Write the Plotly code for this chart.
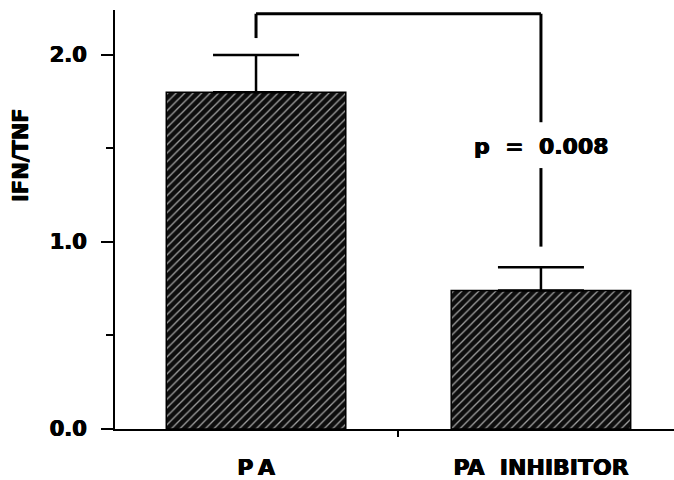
import plotly.graph_objects as go

# ---- data ----
categories = ["PA", "PA INHIBITOR"]
means = [1.80, 0.74]
errors = [0.20, 0.125]
tick_labels = ["P\u2009A", "PA\u00a0\u00a0INHIBITOR"]
y_tick_vals = [0.0, 1.0, 2.0]
y_tick_text = ["0.0", "1.0", "2.0"]
y_minor_vals = [0.5, 1.5]
p_label = "p\u00a0\u00a0=\u00a0\u00a00.008"
y_title = "IFN/TNF"

FONT = "DejaVu Sans"
HEAVY = "0.6px 0 0 black, -0.4px 0 0 black"
xpos = list(range(len(categories)))

fig = go.Figure()
fig.add_trace(go.Bar(
    x=xpos, y=means, width=0.63,
    marker=dict(color="#0d0d0d",
                line=dict(color="black", width=1.5),
                pattern=dict(shape="/", bgcolor="#0d0d0d", fgcolor="#a0a0a0",
                             size=6, solidity=0.22, fillmode="replace")),
    error_y=dict(type="data", symmetric=False, array=errors,
                 arrayminus=[0] * len(errors), color="black",
                 thickness=2.5, width=43),
    showlegend=False, hoverinfo="skip",
))

# significance bracket (derived from data)
tops = [m + e for m, e in zip(means, errors)]
y_top = max(tops) + 0.22
left_bottom = tops[0] + 0.09
right_bottom = tops[1] + 0.11
p_y = 1.51
line = dict(color="black", width=3)
fig.add_shape(type="line", x0=xpos[0], x1=xpos[1], y0=y_top, y1=y_top, line=line)
fig.add_shape(type="line", x0=xpos[0], x1=xpos[0], y0=y_top, y1=left_bottom, line=line)
fig.add_shape(type="line", x0=xpos[1], x1=xpos[1], y0=y_top, y1=p_y + 0.13, line=line)
fig.add_shape(type="line", x0=xpos[1], x1=xpos[1], y0=p_y - 0.115, y1=right_bottom, line=line)

fig.add_annotation(x=xpos[1], y=p_y, text=p_label, showarrow=False,
                   font=dict(family=FONT, size=22, color="black", weight="bold",
                             shadow=HEAVY),
                   xanchor="center", yanchor="middle")

fig.add_annotation(x=-0.168, y=0.654, xref="paper", yref="paper", text=y_title,
                   showarrow=False, textangle=-90,
                   font=dict(family=FONT, size=21, color="black", weight="bold",
                             shadow=HEAVY),
                   xanchor="center", yanchor="middle")

fig.update_layout(
    width=674, height=480,
    margin=dict(l=115, r=0, t=10, b=51, autoexpand=False),
    paper_bgcolor="white", plot_bgcolor="white",
    font=dict(family=FONT, color="black"),
    xaxis=dict(range=[-0.495, 1.467], tickvals=xpos, ticktext=tick_labels,
               ticks="", showgrid=False, zeroline=False, automargin=False,
               showline=True, linecolor="black", linewidth=2,
               tickfont=dict(family=FONT, size=22, color="black", weight="bold",
                             shadow=HEAVY),
               ticklabelstandoff=18,
               minor=dict(tickvals=[0.5], ticks="outside", ticklen=6,
                          tickwidth=2, tickcolor="black", showgrid=False)),
    yaxis=dict(range=[0, 2.24], tickvals=y_tick_vals, ticktext=y_tick_text,
               ticks="outside", ticklen=12, tickwidth=2, tickcolor="black",
               showgrid=False, zeroline=False, automargin=False,
               showline=True, linecolor="black", linewidth=2,
               tickfont=dict(family=FONT, size=21, color="black", weight="bold",
                             shadow=HEAVY),
               ticklabelstandoff=10,
               minor=dict(tickvals=y_minor_vals, ticks="outside", ticklen=7,
                          tickwidth=2, tickcolor="black", showgrid=False)),
)

fig.write_html("out.html",
               config={"displayModeBar": False},
               post_script="document.body.style.margin='0px';"
                           "document.body.style.overflow='hidden';")
